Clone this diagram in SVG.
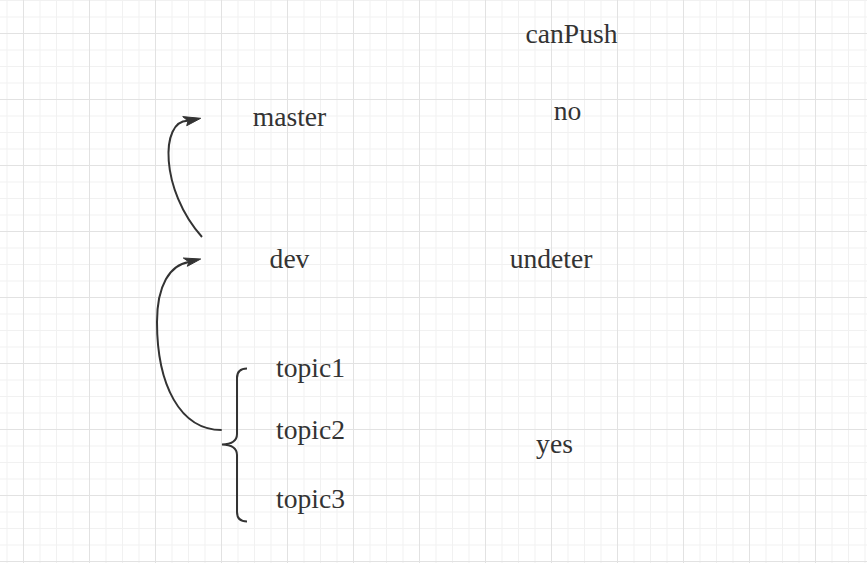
<svg xmlns="http://www.w3.org/2000/svg" width="867" height="563" viewBox="0 0 867 563">
<style>
.lbl{font-family:"Liberation Serif","Times New Roman",serif;font-size:27.6px;fill:#333333;text-anchor:middle}
.edge{fill:none;stroke:#333333;stroke-width:2}
.head{fill:#333333;stroke:#333333;stroke-width:1;stroke-linejoin:miter}
</style>
<defs>
<pattern id="grid" patternUnits="userSpaceOnUse" x="23" y="33" width="66" height="66">
<path d="M17 0V66M33.5 0V66M50 0V66M0 17H66M0 33.5H66M0 50H66" stroke="#f1f1f1" stroke-width="1" fill="none"/>
<path d="M0.5 0V66M0 0.5H66" stroke="#e2e2e2" stroke-width="1" fill="none"/>
</pattern>
</defs>
<rect width="867" height="563" fill="#ffffff"/>
<rect width="867" height="563" fill="url(#grid)"/>
<g id="connectors">
<path class="edge" d="M202,237 C160,190 160,120 188,120.8"/>
<path class="head" d="M200.7,118.3 L182.7,116.6 L188,121 L186.7,125.7 Z"/>
<path class="edge" d="M221.7,430 C180,430 157,385 157,322 C157,285 170,265 189,262"/>
<path class="head" d="M200.7,259 L183.3,258 L189,262 L187.3,266.3 Z"/>
<path id="brace" class="edge" d="M247,368.5 Q237,368.5 237,378 L237,434 Q237,444 222,444.5 Q237,445 237,455 L237,512 Q237,521.5 247,521.5"/>
</g>
<g id="canPush"><text class="lbl" x="571.5" y="43">canPush</text></g>
<g id="no"><text class="lbl" x="567.5" y="120">no</text></g>
<g id="master"><text class="lbl" x="289.5" y="126">master</text></g>
<g id="dev"><text class="lbl" x="289.5" y="267.5">dev</text></g>
<g id="undeter"><text class="lbl" x="551" y="267.5">undeter</text></g>
<g id="topic1"><text class="lbl" x="310.5" y="376.7">topic1</text></g>
<g id="topic2"><text class="lbl" x="310.5" y="439.3">topic2</text></g>
<g id="topic3"><text class="lbl" x="310.5" y="508.3">topic3</text></g>
<g id="yes"><text class="lbl" x="554.5" y="452.7">yes</text></g>
</svg>
